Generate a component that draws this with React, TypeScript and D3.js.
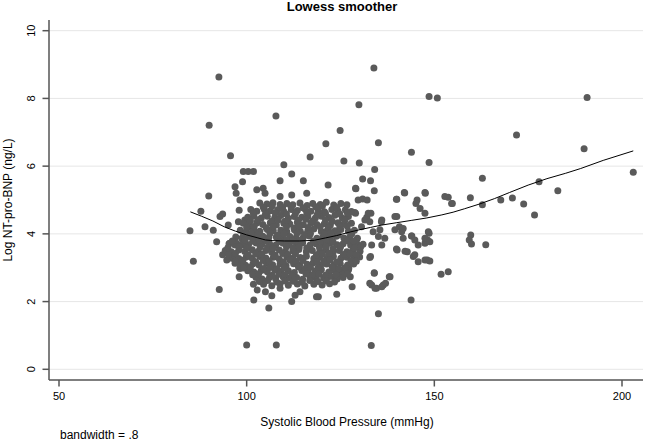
import React from "react";
import * as d3 from "d3";

const xTicks = [50, 100, 150, 200];
const yTicks = [0, 2, 4, 6, 8, 10];

const titleText = "Lowess smoother";
const xTitle = "Systolic Blood Pressure (mmHg)";
const yTitle = "Log NT-pro-BNP (ng/L)";
const noteText = "bandwidth = .8";

// Scattered observations (SBP, log NT-pro-BNP)
const outerPoints: [number, number][] = [
  [92.6, 8.63], [90.0, 7.21], [107.8, 7.48], [133.9, 8.9], [129.9, 7.81], [148.6, 8.06], [150.8, 8.01],
  [190.7, 8.03], [171.9, 6.92], [189.9, 6.51], [203.0, 5.82], [124.9, 7.05], [135.1, 6.69], [143.9, 6.41],
  [148.6, 6.11], [125.9, 6.15], [130.0, 6.09], [134.1, 5.9], [121.1, 6.66], [116.9, 6.27], [95.7, 6.31],
  [109.9, 6.04], [89.9, 5.12], [87.8, 4.67], [84.9, 4.09], [85.8, 3.19], [92.7, 2.36], [100.0, 0.72],
  [107.9, 0.72], [105.9, 1.81], [101.9, 2.05], [119.1, 2.14], [133.2, 0.7], [135.1, 1.64], [143.8, 2.05],
  [151.8, 2.81], [153.7, 2.88],
  [130.9, 5.62], [133.0, 5.57], [134.0, 5.27], [129.1, 5.33], [162.8, 5.64], [177.9, 5.54], [182.9, 5.27],
  [170.8, 5.06], [167.7, 5.0], [162.8, 4.86], [173.8, 4.88], [176.7, 4.56], [159.6, 5.07], [153.7, 5.08],
  [154.8, 4.9], [147.6, 5.2], [145.4, 5.0], [145.1, 4.9], [146.2, 4.75], [147.5, 4.61], [142.1, 5.21],
  [140.0, 5.02], [140.0, 4.51], [136.0, 4.41], [133.1, 4.61], [132.0, 4.49], [129.0, 4.61], [130.9, 5.03],
  [132.1, 5.0],
  [159.7, 3.97], [159.3, 3.82], [159.9, 3.7], [163.7, 3.68], [148.6, 4.02], [148.2, 3.82], [147.5, 3.72],
  [148.1, 3.23], [148.8, 3.2], [145.7, 3.67], [145.7, 3.18], [144.0, 3.94], [142.8, 3.47], [140.1, 3.52],
  [144.4, 3.33], [138.0, 2.73], [136.4, 2.49], [134.6, 2.39], [133.3, 2.49], [133.0, 3.33], [134.0, 2.84],
  [124.0, 2.22], [140.7, 4.21], [141.3, 4.06], [141.7, 3.87],
  [101.8, 2.51], [102.8, 2.34], [105.0, 2.29], [106.7, 2.17], [108.9, 2.39], [112.0, 2.0], [112.9, 2.19],
  [114.2, 2.29], [93.6, 3.38], [94.7, 3.23], [96.0, 3.28], [96.9, 3.13], [98.2, 2.98], [98.0, 2.73],
  [99.1, 5.84], [100.4, 5.84], [101.8, 5.84], [112.0, 5.77], [108.9, 5.57], [115.1, 5.57], [98.9, 5.54],
  [96.9, 5.39], [97.2, 5.2], [98.2, 5.0], [98.0, 4.7], [102.7, 5.3], [104.4, 5.35], [104.9, 5.2],
  [108.9, 5.1], [112.0, 5.15], [116.0, 5.2], [93.6, 4.59], [92.9, 4.51], [88.9, 4.21], [91.1, 4.11],
  [95.1, 4.26], [97.8, 4.36], [99.5, 4.41], [100.9, 4.21], [101.8, 4.06], [92.0, 3.77], [95.5, 3.72],
  [97.3, 3.72], [98.7, 3.67],
  [121.7, 5.44], [129.0, 5.35], [139.9, 5.02], [142.0, 5.22], [147.5, 5.22], [152.8, 5.1], [154.6, 4.9],
  [129.7, 5.0], [128.8, 4.63], [132.4, 4.61], [131.5, 4.41], [130.6, 4.21], [132.8, 4.36], [135.9, 4.36],
  [135.5, 4.12], [139.5, 4.51], [133.7, 4.06], [135.1, 3.92], [136.8, 3.87], [139.5, 4.12], [141.7, 4.16],
  [143.9, 3.94], [144.8, 3.82], [148.4, 4.06], [147.5, 3.87], [148.8, 3.77],
  [132.8, 3.3], [134.0, 2.85], [132.8, 2.54], [134.2, 2.39], [136.0, 2.44], [137.0, 2.54], [138.2, 2.73],
  [139.9, 3.55], [142.2, 3.49], [144.8, 3.38], [147.5, 3.23], [128.1, 2.44], [127.6, 2.73], [127.2, 2.98],
  [124.5, 2.79], [123.2, 2.73], [133.3, 3.67], [136.0, 3.67], [118.6, 2.14],
];

// Dense core of observations
const corePoints: [number, number][] = [
  [103.5, 4.91], [105.4, 4.88], [107.0, 4.92], [108.9, 4.87], [110.7, 4.9], [112.3, 4.86], [114.2, 4.91],
  [116.1, 4.84], [117.6, 4.9], [119.6, 4.87], [121.2, 4.93], [123.2, 4.85], [125.1, 4.9], [126.7, 4.86],
  [101.1, 4.72], [102.7, 4.67], [104.7, 4.73], [106.3, 4.68], [108.3, 4.71], [109.9, 4.66], [111.9, 4.72],
  [113.5, 4.69], [115.5, 4.74], [117.1, 4.67], [119.1, 4.7], [120.7, 4.65], [122.7, 4.72], [124.3, 4.68],
  [126.3, 4.71], [127.9, 4.66],
  [100.3, 4.49], [101.9, 4.53], [103.9, 4.47], [105.5, 4.52], [107.5, 4.48], [109.1, 4.54], [111.1, 4.46],
  [112.7, 4.51], [114.7, 4.49], [116.3, 4.53], [118.3, 4.47], [119.9, 4.52], [121.9, 4.48], [123.5, 4.55],
  [125.5, 4.47], [127.1, 4.51],
  [99.1, 4.31], [100.7, 4.27], [102.7, 4.32], [104.3, 4.28], [106.3, 4.33], [107.9, 4.26], [109.9, 4.31],
  [111.5, 4.29], [113.5, 4.34], [115.1, 4.27], [117.1, 4.32], [118.7, 4.28], [120.7, 4.3], [122.3, 4.26],
  [124.3, 4.33], [125.9, 4.29], [127.9, 4.31],
  [98.3, 4.11], [99.9, 4.07], [101.9, 4.12], [103.5, 4.08], [105.5, 4.13], [107.1, 4.09], [109.1, 4.11],
  [110.7, 4.06], [112.7, 4.12], [114.3, 4.08], [116.3, 4.1], [117.9, 4.14], [119.9, 4.07], [121.5, 4.11],
  [123.5, 4.09], [125.1, 4.13], [127.1, 4.08], [128.7, 4.11],
  [97.1, 3.91], [98.7, 3.87], [100.7, 3.92], [102.3, 3.88], [104.3, 3.93], [105.9, 3.89], [107.9, 3.91],
  [109.5, 3.86], [111.5, 3.92], [113.1, 3.88], [115.1, 3.9], [116.7, 3.94], [118.7, 3.87], [120.3, 3.91],
  [122.3, 3.89], [123.9, 3.93], [125.9, 3.88], [127.5, 3.91], [129.5, 3.87],
  [95.3, 3.71], [96.9, 3.67], [98.9, 3.72], [100.5, 3.68], [102.5, 3.73], [104.1, 3.69], [106.1, 3.71],
  [107.7, 3.66], [109.7, 3.72], [111.3, 3.68], [113.3, 3.7], [114.9, 3.74], [116.9, 3.67], [118.5, 3.71],
  [120.5, 3.69], [122.1, 3.73], [124.1, 3.68], [125.7, 3.71], [127.7, 3.67], [129.3, 3.72], [131.0, 3.69],
  [94.3, 3.51], [95.9, 3.47], [97.9, 3.52], [99.5, 3.48], [101.5, 3.53], [103.1, 3.49], [105.1, 3.51],
  [106.7, 3.46], [108.7, 3.52], [110.3, 3.48], [112.3, 3.5], [113.9, 3.54], [115.9, 3.47], [117.5, 3.51],
  [119.5, 3.49], [121.1, 3.53], [123.1, 3.48], [124.7, 3.51], [126.7, 3.47], [128.3, 3.52], [130.2, 3.49],
  [96.3, 3.31], [97.9, 3.27], [99.9, 3.32], [101.5, 3.28], [103.5, 3.33], [105.1, 3.29], [107.1, 3.31],
  [108.7, 3.26], [110.7, 3.32], [112.3, 3.28], [114.3, 3.3], [115.9, 3.34], [117.9, 3.27], [119.5, 3.31],
  [121.5, 3.29], [123.1, 3.33], [125.1, 3.28], [126.7, 3.31], [128.7, 3.27], [130.1, 3.32],
  [98.1, 3.11], [99.7, 3.07], [101.7, 3.12], [103.3, 3.08], [105.3, 3.13], [106.9, 3.09], [108.9, 3.11],
  [110.5, 3.06], [112.5, 3.12], [114.1, 3.08], [116.1, 3.1], [117.7, 3.14], [119.7, 3.07], [121.3, 3.11],
  [123.3, 3.09], [124.9, 3.13], [126.9, 3.08], [128.5, 3.11],
  [100.3, 2.91], [101.9, 2.87], [103.9, 2.92], [105.5, 2.88], [107.5, 2.93], [109.1, 2.89], [111.1, 2.91],
  [112.7, 2.86], [114.7, 2.92], [116.3, 2.88], [118.3, 2.9], [119.9, 2.94], [121.9, 2.87], [123.5, 2.91],
  [125.5, 2.89], [127.1, 2.93],
  [102.5, 2.71], [104.1, 2.67], [106.1, 2.72], [107.7, 2.68], [109.7, 2.73], [111.3, 2.69], [113.3, 2.71],
  [114.9, 2.66], [116.9, 2.72], [118.5, 2.68], [120.5, 2.7], [122.1, 2.74], [124.1, 2.67], [125.7, 2.71],
  [104.5, 2.51], [106.7, 2.47], [108.9, 2.53], [111.1, 2.48], [113.5, 2.52], [115.5, 2.46], [117.9, 2.51],
  [120.1, 2.49], [122.1, 2.53],
];

// Additional observations filling the densest part of the cloud
const fillPoints: [number, number][] = [
  [104.4, 4.79], [106.8, 4.82], [109.6, 4.78], [111.8, 4.81], [115.0, 4.77], [118.4, 4.8], [120.2, 4.83], [124.0, 4.78],
  [101.8, 4.61], [105.0, 4.58], [107.6, 4.62], [110.6, 4.59], [113.0, 4.6], [116.0, 4.63], [118.8, 4.57], [121.0, 4.61], [124.8, 4.59], [126.8, 4.62],
  [101.0, 4.39], [103.0, 4.42], [106.8, 4.38], [108.4, 4.41], [110.2, 4.37], [113.8, 4.4], [115.8, 4.43], [117.6, 4.39], [121.0, 4.41], [122.8, 4.37], [126.2, 4.4],
  [100.0, 4.19], [102.0, 4.22], [105.2, 4.18], [107.0, 4.21], [110.6, 4.2], [112.6, 4.17], [114.0, 4.22], [116.4, 4.19], [119.6, 4.21], [121.8, 4.18], [124.8, 4.2], [126.8, 4.23],
  [99.2, 3.99], [101.2, 4.02], [103.0, 3.98], [106.2, 4.01], [108.4, 3.97], [110.0, 4.0], [113.4, 4.02], [115.6, 3.98], [117.0, 4.01], [120.8, 3.99], [122.4, 4.03], [124.4, 3.97], [128.0, 4.0],
  [96.2, 3.79], [99.6, 3.82], [101.6, 3.78], [103.4, 3.81], [105.2, 3.79], [108.6, 3.77], [110.6, 3.81], [112.2, 3.79], [114.2, 3.82], [117.8, 3.78], [119.6, 3.8], [121.2, 3.83], [123.0, 3.77], [126.8, 3.8], [128.4, 3.79],
  [95.0, 3.59], [98.0, 3.62], [100.0, 3.58], [103.6, 3.61], [105.6, 3.6], [107.0, 3.57], [110.6, 3.62], [112.4, 3.59], [114.0, 3.61], [116.0, 3.58], [119.4, 3.6], [121.2, 3.63], [123.0, 3.57], [125.0, 3.61], [128.8, 3.59], [130.4, 3.62],
  [95.2, 3.39], [97.0, 3.42], [100.4, 3.38], [102.4, 3.41], [104.0, 3.4], [107.6, 3.37], [109.6, 3.42], [111.0, 3.39], [113.0, 3.41], [118.6, 3.38], [120.2, 3.4], [122.0, 3.43], [125.8, 3.39], [127.6, 3.41], [129.2, 3.38],
  [97.0, 3.19], [99.0, 3.22], [102.4, 3.18], [104.4, 3.21], [106.0, 3.2], [109.8, 3.17], [111.6, 3.22], [113.2, 3.19], [115.0, 3.21], [118.8, 3.18], [120.6, 3.2], [122.2, 3.23], [124.0, 3.17], [127.8, 3.21], [129.2, 3.19],
  [99.2, 2.99], [101.0, 3.02], [104.6, 2.98], [106.2, 3.01], [108.0, 2.97], [110.0, 3.0], [113.8, 3.02], [115.6, 2.98], [117.0, 3.01], [119.0, 2.99], [122.8, 3.03], [124.6, 2.97], [126.2, 3.0],
  [101.6, 2.79], [103.2, 2.82], [106.8, 2.78], [108.6, 2.81], [110.2, 2.79], [112.0, 2.77], [115.8, 2.82], [117.6, 2.79], [119.2, 2.81], [121.0, 2.78], [123.8, 2.8], [126.8, 2.82],
  [103.4, 2.59], [105.6, 2.62], [108.0, 2.58], [110.2, 2.61], [112.4, 2.6], [114.8, 2.57], [116.8, 2.62], [119.0, 2.59], [121.2, 2.61], [123.4, 2.58],
];

// Lowess fitted curve
const lowessSbp = [85, 88, 91, 94, 97, 100, 103, 105, 107, 110, 114, 118, 121, 124, 127, 130, 133, 136, 140, 144, 148, 152, 155, 158, 162, 166, 170, 175, 180, 185, 189, 195, 203];
const lowessFit = [4.65, 4.52, 4.38, 4.21, 4.08, 3.97, 3.88, 3.82, 3.8, 3.79, 3.79, 3.81, 3.88, 3.95, 4.04, 4.12, 4.19, 4.26, 4.33, 4.4, 4.47, 4.56, 4.64, 4.74, 4.88, 5.04, 5.22, 5.44, 5.63, 5.79, 5.93, 6.17, 6.45];

const FONT = "'Liberation Sans', Arial, Helvetica, sans-serif";

export default function App() {
  const W = 646;
  const H = 441;
  const plotLeft = 49;
  const plotRight = 643;
  const plotTop = 20;
  const plotBottom = 380;

  const x = d3.scaleLinear().domain([50, 200]).range([59, 622]);
  const y = d3.scaleLinear().domain([0, 10]).range([369.3, 30.7]);

  const line = d3
    .line<number>()
    .x((_, i) => x(lowessSbp[i]))
    .y((d) => y(d));

  const allPoints = [...outerPoints, ...corePoints, ...fillPoints];
  const axisColor = "#555555";
  const pointColor = "#5a5a5a";

  return (
    <svg
      width={W}
      height={H}
      style={{ position: "fixed", left: 0, top: 0, background: "#ffffff" }}
      fontFamily={FONT}
    >
      <rect x={0} y={0} width={W} height={H} fill="#ffffff" />
      {yTicks.map((t) => (
        <line key={"g" + t} x1={plotLeft} x2={plotRight} y1={y(t)} y2={y(t)} stroke="#e6e6e6" strokeWidth={1} />
      ))}
      {allPoints.map((p, i) => (
        <circle key={i} cx={x(p[0])} cy={y(p[1])} r={3.5} fill={pointColor} />
      ))}
      <path d={line(lowessFit) || ""} fill="none" stroke="#000000" strokeWidth={1} />
      <line x1={plotLeft} x2={plotLeft} y1={plotTop} y2={plotBottom} stroke={axisColor} strokeWidth={1.5} />
      <line x1={plotLeft} x2={plotRight} y1={plotBottom} y2={plotBottom} stroke={axisColor} strokeWidth={1.5} />
      {yTicks.map((t) => (
        <g key={"yt" + t}>
          <line x1={plotLeft - 6.5} x2={plotLeft} y1={y(t)} y2={y(t)} stroke={axisColor} strokeWidth={1.5} />
          <text
            transform={`translate(35,${y(t)}) rotate(-90)`}
            textAnchor="middle"
            fontSize={11}
            fill="#000"
          >
            {t}
          </text>
        </g>
      ))}
      {xTicks.map((t) => (
        <g key={"xt" + t}>
          <line x1={x(t)} x2={x(t)} y1={plotBottom} y2={plotBottom + 6.5} stroke={axisColor} strokeWidth={1.5} />
          <text x={x(t)} y={400} textAnchor="middle" fontSize={11} fill="#000">
            {t}
          </text>
        </g>
      ))}
      <text x={342} y={11} textAnchor="middle" fontSize={13} fontWeight="bold" fill="#000">
        {titleText}
      </text>
      <text x={347} y={426} textAnchor="middle" fontSize={12} fill="#000">
        {xTitle}
      </text>
      <text transform={`translate(12,200) rotate(-90)`} textAnchor="middle" fontSize={12} fill="#000">
        {yTitle}
      </text>
      <text x={60} y={439} fontSize={12} fill="#000">
        {noteText}
      </text>
    </svg>
  );
}
